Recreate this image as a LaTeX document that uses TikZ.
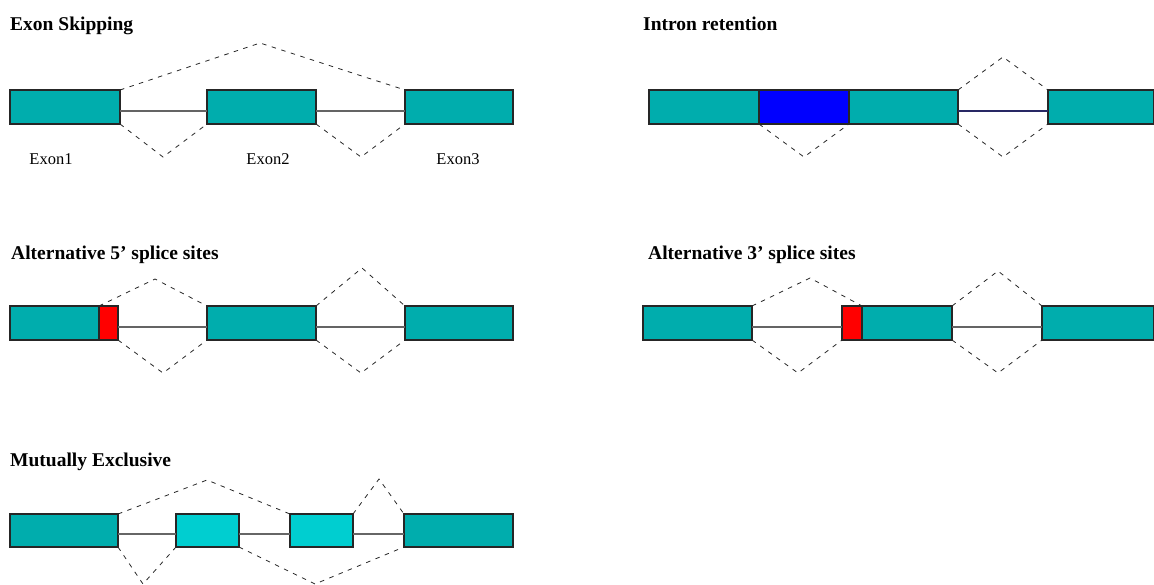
\documentclass[tikz,border=0pt]{standalone}
\usepackage{fontspec}
\setmainfont{Liberation Serif}
\definecolor{exteal}{RGB}{0,173,173}
\definecolor{excyan}{RGB}{0,206,208}
\definecolor{exblue}{RGB}{0,0,255}
\definecolor{exred}{RGB}{255,0,0}
\definecolor{intgray}{RGB}{100,100,100}
\definecolor{intnavy}{RGB}{40,40,100}
\tikzset{
  box/.style={draw=black!85, line width=1.1pt, rectangle, inner sep=0pt, outer sep=0pt, anchor=north west, minimum height=34pt},
  title/.style={font=\fontsize{19.5}{22}\selectfont\bfseries, anchor=base west, inner sep=0pt},
  lbl/.style={font=\fontsize{16.5}{19}\selectfont, anchor=base, inner sep=0pt},
  intron/.style={draw=intgray, line width=1.1pt},
  junc/.style={draw=black!85, line width=0.8pt, dash pattern=on 4.5pt off 5.5pt}
}
\begin{document}
\begin{tikzpicture}[x=1pt,y=-1pt]
\useasboundingbox (0,0) rectangle (1154,584);
% ---------- Exon Skipping ----------
\node[title] (t1) at (10,30) {Exon Skipping};
\node[box, fill=exteal, minimum width=110pt] (a1) at (10,90) {};
\node[box, fill=exteal, minimum width=109pt] (a2) at (207,90) {};
\node[box, fill=exteal, minimum width=108pt] (a3) at (405,90) {};
\draw[intron] ([yshift=-4pt]a1.east) -- ([yshift=-4pt]a2.west);
\draw[intron] ([yshift=-4pt]a2.east) -- ([yshift=-4pt]a3.west);
\coordinate (a13) at (260,43);
\coordinate (a12) at (163,157);
\coordinate (a23) at (361,157);
\draw[junc] (a1.north east) -- (a13) -- (a3.north west);
\draw[junc] (a1.south east) -- (a12) -- (a2.south west);
\draw[junc] (a2.south east) -- (a23) -- (a3.south west);
\node[lbl] (l1) at (51,164) {Exon1};
\node[lbl] (l2) at (268,164) {Exon2};
\node[lbl] (l3) at (458,164) {Exon3};
% ---------- Intron retention ----------
\node[title] (t2) at (643,30) {Intron retention};
\node[box, fill=exteal, minimum width=110pt] (b1) at (649,90) {};
\node[box, fill=exblue, minimum width=90pt] (b2) at (759,90) {};
\node[box, fill=exteal, minimum width=109pt] (b3) at (849,90) {};
\node[box, fill=exteal, minimum width=106pt] (b4) at (1048,90) {};
\draw[intron, draw=intnavy] ([yshift=-4pt]b3.east) -- ([yshift=-4pt]b4.west);
\coordinate (b22) at (804,157);
\coordinate (b34t) at (1003,57);
\coordinate (b34b) at (1003,157);
\draw[junc] (b2.south west) -- (b22) -- (b2.south east);
\draw[junc] (b3.north east) -- (b34t) -- (b4.north west);
\draw[junc] (b3.south east) -- (b34b) -- (b4.south west);
% ---------- Alternative 5' ----------
\node[title] (t3) at (11,259) {Alternative 5’ splice sites};
\node[box, fill=exteal, minimum width=89pt] (c1) at (10,306) {};
\node[box, fill=exred, minimum width=19pt] (c1r) at (99,306) {};
\node[box, fill=exteal, minimum width=109pt] (c2) at (207,306) {};
\node[box, fill=exteal, minimum width=108pt] (c3) at (405,306) {};
\draw[intron] ([yshift=-4pt]c1r.east) -- ([yshift=-4pt]c2.west);
\draw[intron] ([yshift=-4pt]c2.east) -- ([yshift=-4pt]c3.west);
\coordinate (c12t) at (155,279);
\coordinate (c23t) at (362,268);
\coordinate (c12b) at (163,373);
\coordinate (c23b) at (361,373);
\draw[junc] (c1r.north west) -- (c12t) -- (c2.north west);
\draw[junc] (c2.north east) -- (c23t) -- (c3.north west);
\draw[junc] (c1r.south east) -- (c12b) -- (c2.south west);
\draw[junc] (c2.south east) -- (c23b) -- (c3.south west);
% ---------- Alternative 3' ----------
\node[title] (t4) at (648,259) {Alternative 3’ splice sites};
\node[box, fill=exteal, minimum width=109pt] (d1) at (643,306) {};
\node[box, fill=exred, minimum width=20pt] (d2r) at (842,306) {};
\node[box, fill=exteal, minimum width=90pt] (d2) at (862,306) {};
\node[box, fill=exteal, minimum width=112pt] (d3) at (1042,306) {};
\draw[intron] ([yshift=-4pt]d1.east) -- ([yshift=-4pt]d2r.west);
\draw[intron] ([yshift=-4pt]d2.east) -- ([yshift=-4pt]d3.west);
\coordinate (d12t) at (810,278);
\coordinate (d23t) at (998,271);
\coordinate (d12b) at (798,373);
\coordinate (d23b) at (998,373);
\draw[junc] (d1.north east) -- (d12t) -- (d2.north west);
\draw[junc] (d2.north east) -- (d23t) -- (d3.north west);
\draw[junc] (d1.south east) -- (d12b) -- (d2r.south west);
\draw[junc] (d2.south east) -- (d23b) -- (d3.south west);
% ---------- Mutually Exclusive ----------
\node[title] (t5) at (10,466) {Mutually Exclusive};
\node[box, fill=exteal, minimum width=108pt, minimum height=33pt] (e1) at (10,514) {};
\node[box, fill=excyan, minimum width=63pt, minimum height=33pt] (e2) at (176,514) {};
\node[box, fill=excyan, minimum width=63pt, minimum height=33pt] (e3) at (290,514) {};
\node[box, fill=exteal, minimum width=109pt, minimum height=33pt] (e4) at (404,514) {};
\draw[intron, line width=1.8pt, draw=black!60] ([yshift=-3.5pt]e1.east) -- ([yshift=-3.5pt]e2.west);
\draw[intron, line width=1.8pt, draw=black!60] ([yshift=-3.5pt]e2.east) -- ([yshift=-3.5pt]e3.west);
\draw[intron, line width=1.8pt, draw=black!60] ([yshift=-3.5pt]e3.east) -- ([yshift=-3.5pt]e4.west);
\coordinate (e13t) at (207,480);
\coordinate (e34t) at (379,479);
\coordinate (e12b) at (143,584);
\coordinate (e24b) at (315,584);
\draw[junc] (e1.north east) -- (e13t) -- (e3.north west);
\draw[junc] (e3.north east) -- (e34t) -- (e4.north west);
\draw[junc] (e1.south east) -- (e12b) -- (e2.south west);
\draw[junc] (e2.south east) -- (e24b) -- (e4.south west);
\end{tikzpicture}
\end{document}
